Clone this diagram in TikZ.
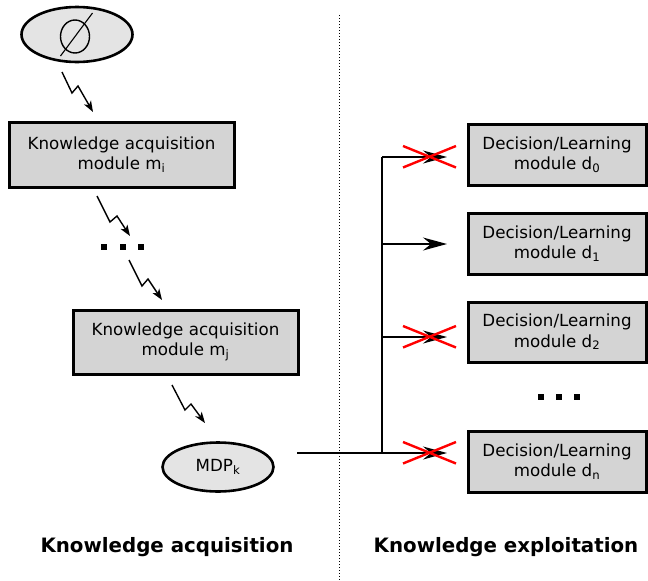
\documentclass[tikz,border=0pt]{standalone}
\usepackage{fontspec}
\setmainfont{DejaVu Sans}
\usetikzlibrary{arrows.meta,shapes.geometric}
\definecolor{boxgray}{RGB}{212,212,212}
\definecolor{ellgray}{RGB}{228,228,228}
\tikzset{
  kbox/.style={draw, line width=3pt, fill=boxgray, align=center, inner sep=0pt,
    font=\fontsize{16.7}{20.5}\selectfont},
  kell/.style={draw, ellipse, line width=2.6pt, fill=ellgray, inner sep=0pt,
    font=\fontsize{16.7}{20.5}\selectfont},
  zig/.style={line width=1.4pt, -{Stealth[length=11pt,width=8pt,inset=3pt]}},
  branch/.style={line width=1.4pt, -{Stealth[length=24pt,width=13pt,inset=8pt]}},
  xmark/.style={draw=red, line width=2.4pt},
  dotsq/.style={fill=black, minimum size=6.5pt, inner sep=0pt},
  biglabel/.style={font=\fontsize{19.8}{23}\selectfont\bfseries}
}
\begin{document}
\begin{tikzpicture}[x=1pt,y=-1pt]
\useasboundingbox (0,0) rectangle (648,581);

% separator
\draw[dotted, line width=1pt] (339,15) -- (339,581);

% empty set ellipse
\node[kell, minimum width=111, minimum height=55] (empty) at (77,34.5) {};
\draw[line width=1.4pt] (75,36.5) ellipse (14.5 and 16.5);
\draw[line width=1.1pt] (60.5,56) -- (92.5,13);

% acquisition boxes
\node[kbox, minimum width=225, minimum height=65] (mi) at (121.5,154.5) {Knowledge acquisition\\module m\textsubscript{i}};
\node[kbox, minimum width=225, minimum height=64] (mj) at (185.5,342) {Knowledge acquisition\\module m\textsubscript{j}};
\node[kell, minimum width=111, minimum height=49] (mdp) at (218,467) {MDP\textsubscript{k}};

% lightning connectors
\coordinate (z1) at (62,72); \coordinate (z1e) at (93,112);
\draw[zig] (z1) -- (72,93) -- (78,86) -- (z1e);
\coordinate (z2) at (97,196); \coordinate (z2e) at (130,236);
\draw[zig] (z2) -- (110,222) -- (117,216) -- (z2e);
\node[dotsq] (l1) at (104,247) {};
\node[dotsq] (l2) at (123,247) {};
\node[dotsq] (l3) at (141,247) {};
\coordinate (z3) at (129,260); \coordinate (z3e) at (162,300);
\draw[zig] (z3) -- (142,286) -- (148,279) -- (z3e);
\coordinate (z4) at (172,385); \coordinate (z4e) at (205,423);
\draw[zig] (z4) -- (185,410) -- (191,404) -- (z4e);

% exploitation boxes
\node[kbox, minimum width=178, minimum height=61] (d0) at (557,154.5) {Decision/Learning\\module d\textsubscript{0}};
\node[kbox, minimum width=178, minimum height=61] (d1) at (557,243.5) {Decision/Learning\\module d\textsubscript{1}};
\node[kbox, minimum width=178, minimum height=60] (d2) at (557,332) {Decision/Learning\\module d\textsubscript{2}};
\node[kbox, minimum width=178, minimum height=61] (dn) at (557,461.5) {Decision/Learning\\module d\textsubscript{n}};
\node[dotsq] (r1) at (541,397) {};
\node[dotsq] (r2) at (559,397) {};
\node[dotsq] (r3) at (577,397) {};

% branching
\coordinate (src) at (297,453);
\coordinate (j0) at (382,157);
\coordinate (j1) at (382,244);
\coordinate (j2) at (382,337);
\coordinate (jn) at (382,453);
\coordinate (t0) at (447,157);
\coordinate (t1) at (447,244);
\coordinate (t2) at (447,337);
\coordinate (tn) at (447,453);
\draw[line width=1.4pt] (src) -- (jn);
\draw[line width=1.4pt] (j0) -- (jn);
\draw[branch] (j0) -- (t0);
\draw[branch] (j1) -- (t1);
\draw[branch] (j2) -- (t2);
\draw[branch] (jn) -- (tn);

% red crosses
\foreach \yy in {157,337,453}{
  \draw[xmark] (403,\yy-11) -- (456,\yy+10.5);
  \draw[xmark] (403,\yy+10.5) -- (456,\yy-11);
}

% section labels
\node[biglabel] (lacq) at (167,547) {Knowledge acquisition};
\node[biglabel] (lexp) at (506,547) {Knowledge exploitation};
\end{tikzpicture}
\end{document}
